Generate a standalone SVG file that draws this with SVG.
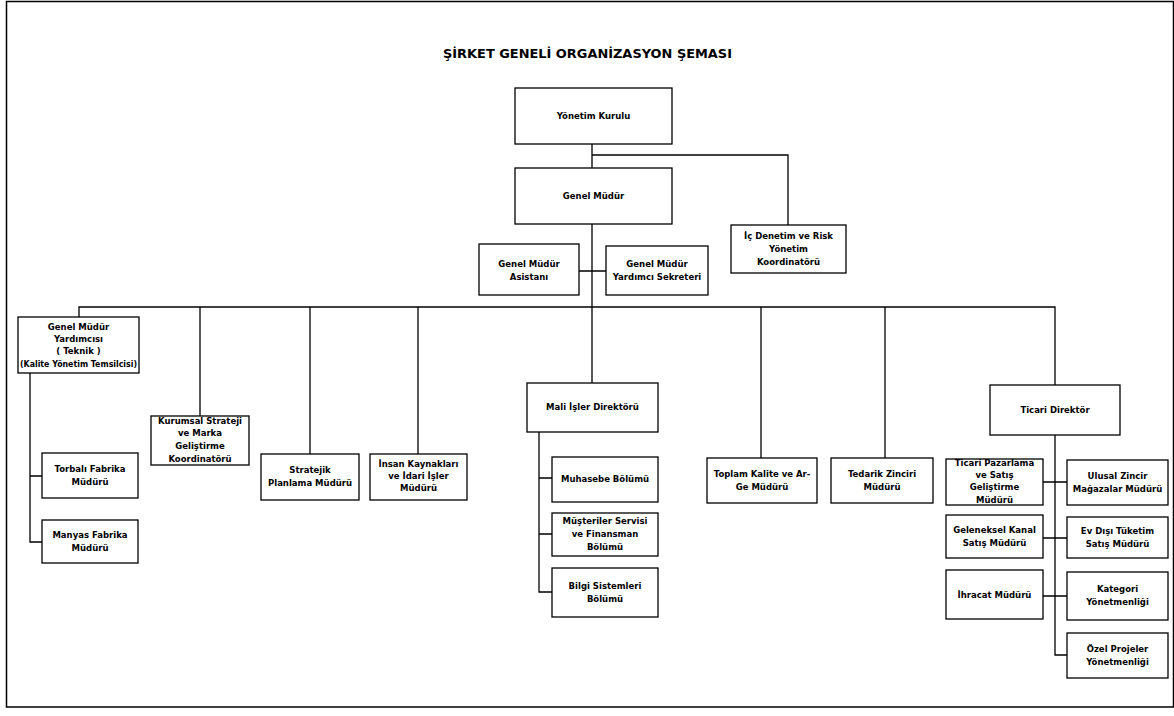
<svg xmlns="http://www.w3.org/2000/svg" width="1174" height="716" viewBox="0 0 1174 716">
<style>
.b{fill:#fff;stroke:#000;stroke-width:1.3}
.t{font-family:"DejaVu Sans","Liberation Sans",sans-serif;font-weight:bold;font-size:8.5px;fill:#000;text-anchor:middle}
.c{fill:none;stroke:#000;stroke-width:1.3}
.ttl{font-family:"DejaVu Sans","Liberation Sans",sans-serif;font-weight:bold;font-size:13px;fill:#000}
</style>
<rect x="0" y="0" width="1174" height="716" fill="#fff"/>
<rect x="6.5" y="1.5" width="1167" height="705.5" fill="none" stroke="#000" stroke-width="1.5"/>
<text class="ttl" x="443" y="58" textLength="289" lengthAdjust="spacingAndGlyphs">ŞİRKET GENELİ ORGANİZASYON ŞEMASI</text>
<g id="connectors">
<path class="c" d="M592,144V168M592,155H788V225M592,224V383M579,271H606"/>
<path class="c" d="M79,317V307H1055V385M200,307V416M310,307V454M418,307V454M761,307V458M885,307V458"/>
<path class="c" d="M30,373V542H42M30,476H42"/>
<path class="c" d="M539,432V592H552M539,478H552M539,534H552"/>
<path class="c" d="M1055,435V655H1067M1043,482H1067M1043,538H1067M1043,596H1067"/>
</g>
<g id="yk"><rect class="b" x="515" y="88" width="157" height="56"/><text class="t" x="593.5" y="119">Yönetim Kurulu</text></g>
<g id="gm"><rect class="b" x="515" y="168" width="157" height="56"/><text class="t" x="593.5" y="199">Genel Müdür</text></g>
<g id="icdenetim"><rect class="b" x="731" y="225" width="115" height="48"/><text class="t" x="788.5" y="239">İç Denetim ve Risk</text><text class="t" x="788.5" y="252">Yönetim</text><text class="t" x="788.5" y="265">Koordinatörü</text></g>
<g id="asistan"><rect class="b" x="479" y="244" width="100" height="51"/><text class="t" x="529" y="267">Genel Müdür</text><text class="t" x="529" y="280">Asistanı</text></g>
<g id="sekreter"><rect class="b" x="606" y="246" width="102" height="49"/><text class="t" x="657" y="267">Genel Müdür</text><text class="t" x="657" y="280">Yardımcı Sekreteri</text></g>
<g id="gmy"><rect class="b" x="18" y="317" width="121" height="56"/><text class="t" x="78.5" y="330">Genel Müdür</text><text class="t" x="78.5" y="342">Yardımcısı</text><text class="t" x="78.5" y="354">( Teknik )</text><text class="t" x="78.5" y="367" textLength="117" lengthAdjust="spacingAndGlyphs">(Kalite Yönetim Temsilcisi)</text></g>
<g id="torbali"><rect class="b" x="42" y="453" width="96" height="45"/><text class="t" x="90" y="472">Torbalı Fabrika</text><text class="t" x="90" y="485">Müdürü</text></g>
<g id="manyas"><rect class="b" x="42" y="520" width="96" height="43"/><text class="t" x="90" y="538">Manyas Fabrika</text><text class="t" x="90" y="551">Müdürü</text></g>
<g id="kurumsal"><rect class="b" x="151" y="416" width="98" height="49"/><text class="t" x="200" y="424">Kurumsal Strateji</text><text class="t" x="200" y="436">ve Marka</text><text class="t" x="200" y="449">Geliştirme</text><text class="t" x="200" y="462">Koordinatörü</text></g>
<g id="stratejik"><rect class="b" x="261" y="454" width="98" height="46"/><text class="t" x="310" y="473">Stratejik</text><text class="t" x="310" y="486">Planlama Müdürü</text></g>
<g id="ik"><rect class="b" x="370" y="454" width="97" height="46"/><text class="t" x="418.5" y="467">İnsan Kaynakları</text><text class="t" x="418.5" y="479">ve İdari İşler</text><text class="t" x="418.5" y="491">Müdürü</text></g>
<g id="mali"><rect class="b" x="527" y="383" width="131" height="49"/><text class="t" x="592.5" y="410">Mali İşler Direktörü</text></g>
<g id="muhasebe"><rect class="b" x="552" y="457" width="106" height="45"/><text class="t" x="605" y="482">Muhasebe Bölümü</text></g>
<g id="musteri"><rect class="b" x="552" y="513" width="106" height="43"/><text class="t" x="605" y="524">Müşteriler Servisi</text><text class="t" x="605" y="537">ve Finansman</text><text class="t" x="605" y="550">Bölümü</text></g>
<g id="bilgi"><rect class="b" x="552" y="568" width="106" height="49"/><text class="t" x="605" y="589">Bilgi Sistemleri</text><text class="t" x="605" y="602">Bölümü</text></g>
<g id="kalite"><rect class="b" x="707" y="458" width="110" height="45"/><text class="t" x="762" y="477">Toplam Kalite ve Ar-</text><text class="t" x="762" y="490">Ge Müdürü</text></g>
<g id="tedarik"><rect class="b" x="831" y="458" width="102" height="45"/><text class="t" x="882" y="477">Tedarik Zinciri</text><text class="t" x="882" y="490">Müdürü</text></g>
<g id="ticari"><rect class="b" x="990" y="385" width="130" height="50"/><text class="t" x="1055" y="413">Ticari Direktör</text></g>
<g id="pazarlama"><rect class="b" x="946" y="459" width="97" height="46"/><text class="t" x="994.5" y="466">Ticari Pazarlama</text><text class="t" x="994.5" y="478">ve Satış</text><text class="t" x="994.5" y="490">Geliştirme</text><text class="t" x="994.5" y="503">Müdürü</text></g>
<g id="ulusal"><rect class="b" x="1067" y="460" width="101" height="45"/><text class="t" x="1117.5" y="479">Ulusal Zincir</text><text class="t" x="1117.5" y="492">Mağazalar Müdürü</text></g>
<g id="geleneksel"><rect class="b" x="946" y="515" width="97" height="43"/><text class="t" x="994.5" y="533">Geleneksel Kanal</text><text class="t" x="994.5" y="546">Satış Müdürü</text></g>
<g id="evdisi"><rect class="b" x="1067" y="517" width="101" height="41"/><text class="t" x="1117.5" y="534">Ev Dışı Tüketim</text><text class="t" x="1117.5" y="547">Satış Müdürü</text></g>
<g id="ihracat"><rect class="b" x="946" y="570" width="97" height="49"/><text class="t" x="994.5" y="598">İhracat Müdürü</text></g>
<g id="kategori"><rect class="b" x="1067" y="572" width="101" height="48"/><text class="t" x="1117.5" y="592">Kategori</text><text class="t" x="1117.5" y="605">Yönetmenliği</text></g>
<g id="ozel"><rect class="b" x="1067" y="633" width="101" height="45"/><text class="t" x="1117.5" y="652">Özel Projeler</text><text class="t" x="1117.5" y="665">Yönetmenliği</text></g>
</svg>
